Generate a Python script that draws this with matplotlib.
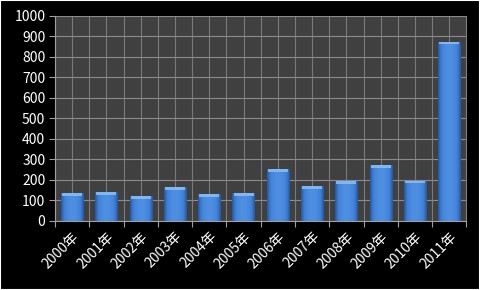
import matplotlib
matplotlib.use("Agg")
import matplotlib.pyplot as plt
import numpy as np
from matplotlib.patches import Rectangle

plt.rcParams['font.family'] = ['Noto Sans CJK SC', 'DejaVu Sans']

categories = ["2000年", "2001年", "2002年", "2003年", "2004年", "2005年",
              "2006年", "2007年", "2008年", "2009年", "2010年", "2011年"]
values = [136, 141, 120, 166, 132, 137, 252, 169, 195, 272, 197, 875]
yticks = [0, 100, 200, 300, 400, 500, 600, 700, 800, 900, 1000]

fig = plt.figure(figsize=(4.8, 2.9), dpi=100, facecolor='black')
ax = fig.add_axes([0.1146, 0.238, 0.857, 0.707])
ax.set_facecolor('#404040')

x = np.arange(len(categories))
width = 0.65
bars = ax.bar(x, values, width=width, color='#3a78d0', zorder=3, edgecolor='none')

# horizontal gradient inside each bar
grad = np.linspace(0, 1, 64)
prof = 1 - (2 * grad - 1) ** 2
cmap = matplotlib.colors.LinearSegmentedColormap.from_list(
    'b', ['#24569c', '#3f80d8', '#4f8fe2'])
img = np.tile(prof, (2, 1))
for b in bars:
    x0, y0 = b.get_x(), b.get_y()
    w, h = b.get_width(), b.get_height()
    im = ax.imshow(img, extent=[x0, x0 + w, y0, y0 + h], aspect='auto',
                   cmap=cmap, zorder=4, interpolation='bilinear')
    im.set_clip_path(b)
# top bevel cap
cap = 14
ax.bar(x, [cap] * len(values), bottom=[v - cap for v in values], width=width * 0.9,
       color='#8cc0f4', zorder=5, edgecolor='none', alpha=0.85)

ax.set_xlim(-0.5, len(categories) - 0.5)
ax.set_ylim(0, 1000)
ax.set_yticks(yticks)
ax.set_yticklabels([str(t) for t in yticks], color='white', fontsize=10)

# category boundary ticks
ax.set_xticks(np.arange(-0.5, len(categories), 1.0))
ax.set_xticklabels([])
ax.set_xticks(x, minor=True)
ax.set_xticklabels(categories, minor=True, rotation=45, ha='right',
                   rotation_mode='anchor', color='white', fontsize=10)
ax.tick_params(axis='x', which='minor', length=0, pad=6)
ax.tick_params(axis='x', which='major', length=4, color='#a0a0a0', direction='out')
ax.tick_params(axis='y', length=4, color='#a0a0a0', direction='out', pad=3)

# gridlines at every half category and horizontal lines
for gx in np.arange(-0.5, len(categories), 0.5):
    ax.axvline(gx, color='#7a7a7a', lw=0.8, zorder=1)
for gy in yticks:
    ax.axhline(gy, color='#8a8a8a', lw=0.8, zorder=1)

for s in ax.spines.values():
    s.set_visible(False)
ax.spines['bottom'].set_visible(True)
ax.spines['bottom'].set_color('#a0a0a0')
ax.spines['left'].set_visible(True)
ax.spines['left'].set_color('#a0a0a0')
ax.spines['right'].set_visible(True)
ax.spines['right'].set_color('#7f7f7f')

fig.patches.append(Rectangle((0, 0), 1, 1, transform=fig.transFigure,
                             fill=False, edgecolor='white', lw=1.5, zorder=10))

fig.savefig('out.png', dpi=100, facecolor='black')
